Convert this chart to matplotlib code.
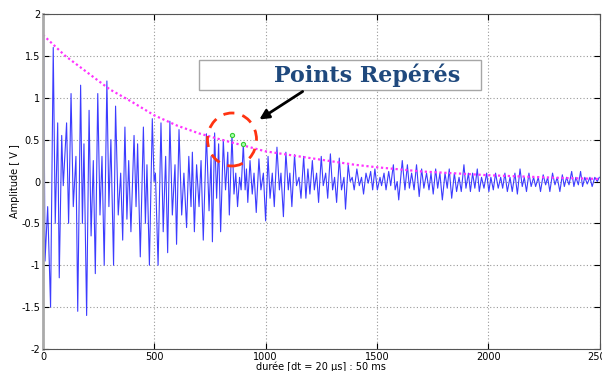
import numpy as np
import matplotlib
matplotlib.use("Agg")
import matplotlib.pyplot as plt
from matplotlib.patches import Ellipse, Rectangle, FancyArrowPatch

# extremes du signal (indice d'echantillon, amplitude en V)
ext_idx = [0, 3, 9, 21, 34, 46, 55, 66, 73, 84, 91, 106, 115, 126, 136, 148, 156, 169, 177, 184,
           196, 207, 216, 226, 235, 246, 256, 265, 275, 287, 296, 305, 317, 326, 338, 349, 358, 368,
           377, 385, 395, 409, 418, 425, 437, 451, 460, 467, 478, 491, 499, 505, 517, 530, 540, 551,
           560, 570, 581, 593, 600, 611, 623, 633,
           645, 655, 665, 671, 680, 690, 701, 710, 720, 734, 746, 755, 761, 771, 780, 789, 798, 810,
           820, 830, 837, 849, 858, 866, 874, 883, 890, 900, 908, 914, 920, 930, 940, 948, 958, 970,
           979, 990, 1000, 1011, 1020, 1030, 1039, 1051, 1062, 1069, 1080, 1091, 1102, 1109, 1118,
           1130, 1139, 1150, 1159, 1171, 1181, 1190, 1199, 1210, 1219, 1229, 1238, 1250, 1259, 1270,
           1279, 1291, 1301, 1310, 1319, 1331, 1341, 1352, 1359, 1371, 1380, 1389, 1398, 1410, 1421,
           1431, 1440, 1451, 1461, 1472, 1481, 1491, 1502, 1514, 1521, 1532, 1541, 1553, 1562, 1574,
           1582, 1591, 1598,
           1614, 1626, 1637, 1646, 1656, 1667, 1678, 1690, 1701, 1711, 1723, 1734, 1743, 1753, 1764,
           1773, 1783, 1794, 1806, 1816, 1825, 1836, 1848, 1858, 1869, 1879, 1891, 1900, 1911, 1920,
           1930, 1940, 1951, 1960, 1970, 1981, 1993, 2003, 2012, 2023, 2033, 2045, 2056, 2065, 2075,
           2086, 2098, 2108, 2120, 2131, 2143, 2153, 2162, 2172, 2183, 2193, 2204, 2213, 2225, 2235,
           2247, 2258, 2267, 2277, 2289, 2300, 2310, 2322, 2333, 2342, 2352, 2363, 2375, 2385, 2394,
           2405, 2415, 2424, 2434, 2445, 2457, 2467, 2479, 2490, 2499]
ext_amp = [0.7, 1.75, -0.95, -0.3, -1.5, 1.6, -0.5, 0.7, -1.15, 0.55, -0.05, 0.7, -0.5, 1.05, -0.3,
           0.3, -1.55, 1.15, -0.5, 0.45, -1.6, 0.85, -0.65, 0.25, -1.1, 1.05, -0.4, 0.3, -1.0, 1.2,
           -0.3, 0.5, -1.0, 0.9, -0.4, 0.1, -0.7, 0.65, -0.45, 0.25, -0.6, 0.55, -0.3, 0.45, -0.9,
           0.65, -0.5, 0.2, -1.0, 0.75, 0.0, 0.1, -1.0, 0.7, -0.6, 0.3, -0.85, 0.72, -0.4, 0.2, -0.75,
           0.62, -0.4, 0.1,
           -0.55, 0.3, -0.3, 0.35, -0.6, 0.2, -0.3, 0.25, -0.7, 0.57, -0.35, 0.3, -0.72, 0.58, -0.2,
           0.45, -0.6, 0.5, -0.1, 0.35, -0.4, 0.56, -0.15, 0.1, -0.3, 0.05, -0.1, 0.45, -0.1, 0.15,
           -0.25, 0.25, -0.15, 0.1, -0.37, 0.27, -0.1, 0.1, -0.47, 0.3, -0.2, 0.1, -0.3, 0.41, -0.1,
           0.1, -0.42, 0.35, -0.1, 0.1, -0.3, 0.32, -0.05, 0.05, -0.2, 0.3, -0.2, 0.15, -0.15, 0.25,
           -0.1, 0.1, -0.25, 0.3, -0.05, 0.1, -0.2, 0.33, -0.1, 0.05, -0.25, 0.28, -0.1, 0.05, -0.33,
           0.2, 0.0, 0.05, -0.1, 0.15, -0.05, 0.05, -0.15, 0.1, -0.02, 0.12, -0.1, 0.15, -0.1, 0.05,
           -0.05, 0.1, -0.1, 0.12, -0.05, 0.2, -0.1, 0.0, -0.22,
           0.25, -0.1, 0.2, -0.08, 0.1, -0.1, 0.2, -0.18, 0.15, -0.08, 0.1, -0.1, 0.1, -0.15, 0.15,
           -0.08, 0.1, -0.22, 0.1, -0.08, 0.15, -0.2, 0.1, -0.12, 0.05, -0.12, 0.2, -0.08, 0.1, -0.12,
           0.1, -0.08, 0.15, -0.12, 0.05, -0.08, 0.1, -0.12, 0.05, -0.1, 0.1, -0.08, 0.05, -0.08, 0.1,
           -0.12, 0.05, -0.12, 0.1, -0.15, 0.15, -0.06, 0.05, -0.12, 0.1, -0.06, 0.05, -0.06, 0.05,
           -0.12, 0.08, -0.04, 0.05, -0.12, 0.1, -0.04, 0.05, -0.12, 0.08, -0.06, 0.05, -0.04, 0.12,
           -0.06, 0.05, -0.04, 0.12, -0.06, 0.05, -0.03, 0.05, -0.06, 0.05, 0.0, 0.05]

# enveloppe exponentielle (pointilles magenta)
env_idx = [0, 100, 200, 300, 400, 500, 600, 700, 800, 900, 1000, 1100, 1200, 1300, 1400, 1500,
           1600, 1700, 1800, 1900, 2000, 2100, 2200, 2300, 2400, 2500]
env_amp = [1.75, 1.5, 1.3, 1.1, 0.95, 0.79, 0.67, 0.575, 0.5, 0.43, 0.36, 0.32, 0.28, 0.24, 0.2,
           0.17, 0.145, 0.12, 0.105, 0.09, 0.075, 0.065, 0.055, 0.045, 0.038, 0.03]

# points reperes (verts)
mark_idx = [849, 900]
mark_amp = [0.56, 0.45]

x_ticks = [0, 500, 1000, 1500, 2000, 2500]
y_ticks = [-2, -1.5, -1, -0.5, 0, 0.5, 1, 1.5, 2]
y_labels = ["-2", "-1.5", "-1", "-0.5", "0", "0.5", "1", "1.5", "2"]

W, H = 602, 371
fig = plt.figure(figsize=(W / 100, H / 100), dpi=100)
ax = fig.add_axes([43 / W, 1 - 349 / H, 556.5 / W, 335 / H])

ax.plot(ext_idx, ext_amp, color="#3c3cff", lw=0.8)
ax.plot(env_idx, env_amp, color="#ff33ff", lw=1.6, linestyle=(0, (1, 1.2)))
ax.plot(mark_idx, mark_amp, "o", ms=3, mfc="#aaffaa", mec="#33cc33", mew=0.8)

ax.set_xlim(0, 2500)
ax.set_ylim(-2, 2)
ax.set_xticks(x_ticks)
ax.set_yticks(y_ticks)
ax.set_yticklabels(y_labels)
ax.grid(True, color="#999999", linestyle=(0, (1, 2)), lw=0.8)
ax.tick_params(direction="in", length=4, labelsize=7, top=True, right=True, pad=2)
for s in ax.spines.values():
    s.set_color("#555555")
ax.spines["left"].set_color("#aaaaaa")
ax.spines["left"].set_linewidth(2)

ax.set_ylabel("Amplitude [ V ]", fontsize=7, labelpad=1)
ax.set_xlabel("durée [dt = 20 µs] : 50 ms", fontsize=7, labelpad=0)

# annotation : cadre + texte + fleche + cercle rouge
fig.patches.append(Rectangle((199 / W, 1 - 90 / H), 282 / W, 30 / H, transform=fig.transFigure,
                             facecolor="white", edgecolor="#a6a6a6", lw=1))
fig.text(367 / W, 1 - 75 / H, "Points Repérés", ha="center", va="center", fontsize=16,
         fontweight="bold", family="DejaVu Serif", color="#1f497d")
fig.patches.append(FancyArrowPatch((305 / W, 1 - 90 / H), (257 / W, 1 - 121 / H),
                                   transform=fig.transFigure, arrowstyle="-|>",
                                   mutation_scale=14, color="black", lw=2))
fig.patches.append(Ellipse((232 / W, 1 - 139.5 / H), 49 / W, 53 / H, transform=fig.transFigure,
                           fill=False, edgecolor="#ff3311", lw=2, linestyle=(0, (4, 3))))

fig.savefig("out.png", dpi=100)
